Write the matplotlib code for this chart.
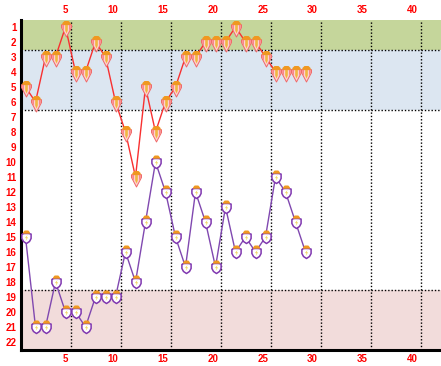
import numpy as np
import matplotlib.pyplot as plt
from matplotlib.path import Path
from matplotlib.transforms import ScaledTranslation

weeks = list(range(1, 30))
home_rank = [5, 6, 3, 3, 1, 4, 4, 2, 3, 6, 8, 11, 5, 8, 6, 5, 3, 3, 2, 2, 2, 1, 2, 2, 3, 4, 4, 4, 4]
away_rank = [15, 21, 21, 18, 20, 20, 21, 19, 19, 19, 16, 18, 14, 10, 12, 15, 17, 12, 14, 17, 13, 16, 15, 16, 15, 11, 12, 14, 16]
x_ticks = [5, 10, 15, 20, 25, 30, 35, 40]
y_ticks = list(range(1, 23))
bands = [(0.5, 2.5, '#c5d69b'), (2.5, 6.5, '#dce6f1'), (18.5, 22.5, '#f2dcdb')]

# icon shapes, coordinates are pixels from the point, y up
crown_home = Path([(-4, 2.6), (-4.2, 4.4), (-2, 6.5), (2, 6.5), (4.2, 4.4), (4, 2.6), (-4, 2.6)])
kite = Path([(-5, 2.8), (5, 2.8), (5, 0), (0, -9.5), (-5, 0), (-5, 2.8)])
kite_left = Path([(-4.2, 2.6), (-2.6, 2.6), (-2.6, -3.4), (-4.2, -0.4), (-4.2, 2.6)])
kite_right = Path([(4.2, 2.6), (2.6, 2.6), (2.6, -3.4), (4.2, -0.4), (4.2, 2.6)])
kite_mid = Path([(-1.3, 2.8), (1.3, 2.8), (1.3, -3), (0, -6), (-1.3, -3), (-1.3, 2.8)])
crown_away = Path([(-3.4, 3.8), (-3.4, 5.2), (-1.8, 7), (1.8, 7), (3.4, 5.2), (3.4, 3.8), (-3.4, 3.8)])
shield = Path([(-4.6, 3.4), (-2, 4), (2, 4), (4.6, 3.4), (4.6, -1), (3, -4), (0, -6), (-3, -4), (-4.6, -1), (-4.6, 3.4)])
bolt = Path([(1, 2.6), (-1.6, -0.6), (0, -0.6), (-0.8, -3.6), (1.6, 0.2), (0.2, 0.2), (1, 2.6)])


def stamp(ax, x, y, path, **kw):
    # matplotlib scales a custom marker to its largest coordinate, so undo that
    ms = 2 * np.abs(path.vertices).max() * 0.72
    ax.plot(x, y, ls='', marker=path, ms=ms, **kw)


def draw_home(ax, x, y):
    ax.plot(x, y, color='#f83030', lw=1.0, zorder=3)
    stamp(ax, x, y, kite, mfc='#ffd0d0', mec='#f06868', mew=0.7, zorder=4)
    stamp(ax, x, y, kite_left, mfc='#f88080', mec='none', zorder=5)
    stamp(ax, x, y, kite_right, mfc='#f88080', mec='none', zorder=5)
    stamp(ax, x, y, kite_mid, mfc='#f0b840', mec='none', zorder=5)
    stamp(ax, x, y, crown_home, mfc='#f09820', mec='none', zorder=5)


def draw_away(ax, x, y):
    ax.plot(x, y, color='#8048b0', lw=1.0, zorder=3)
    stamp(ax, x, y, shield, mfc='white', mec='#8038b0', mew=1.1, zorder=4)
    stamp(ax, x, y, bolt, mfc='#f0d860', mec='none', zorder=5)
    stamp(ax, x, y, crown_away, mfc='#f09820', mec='none', zorder=5)


fig = plt.figure(figsize=(4.41, 3.66), dpi=100)
ax = fig.add_axes([20.5 / 441, 1 - 349.5 / 366, 420.5 / 441, 330 / 366])
ax.set_xlim(0.5, 42.55)
ax.set_ylim(22.5, 0.5)

for y0, y1, c in bands:
    ax.axhspan(y0, y1, color=c, lw=0, zorder=0)

for w in x_ticks:
    ax.axvline(w + 0.5, color='black', ls=(0, (1, 1.4)), lw=1, zorder=1)
for r in [2.5, 6.5, 18.5]:
    ax.axhline(r, color='black', ls=(0, (1, 1.4)), lw=1, zorder=1)

draw_home(ax, weeks, home_rank)
draw_away(ax, weeks, away_rank)

ax.set_xticks(x_ticks)
ax.set_yticks(y_ticks)
ax.tick_params(length=0, labelcolor='#ff0000', labelsize=7, labeltop=True, pad=3)
ax.tick_params(axis='y', pad=3)

# x labels end just right of their tick, so two digits sit off centre
shift = ScaledTranslation(2.5 / 100, 0, fig.dpi_scale_trans)
for tick in ax.xaxis.get_major_ticks():
    for lab in [tick.label1, tick.label2]:
        lab.set_ha('right')
        lab.set_transform(lab.get_transform() + shift)
for lab in ax.get_xticklabels() + ax.get_yticklabels() + [t.label2 for t in ax.xaxis.get_major_ticks()]:
    lab.set_fontweight('bold')
    lab.set_family('Liberation Sans')

for s in ['top', 'right']:
    ax.spines[s].set_visible(False)
for s in ['left', 'bottom']:
    ax.spines[s].set_linewidth(2.2)

plt.savefig('out.png', dpi=100)
